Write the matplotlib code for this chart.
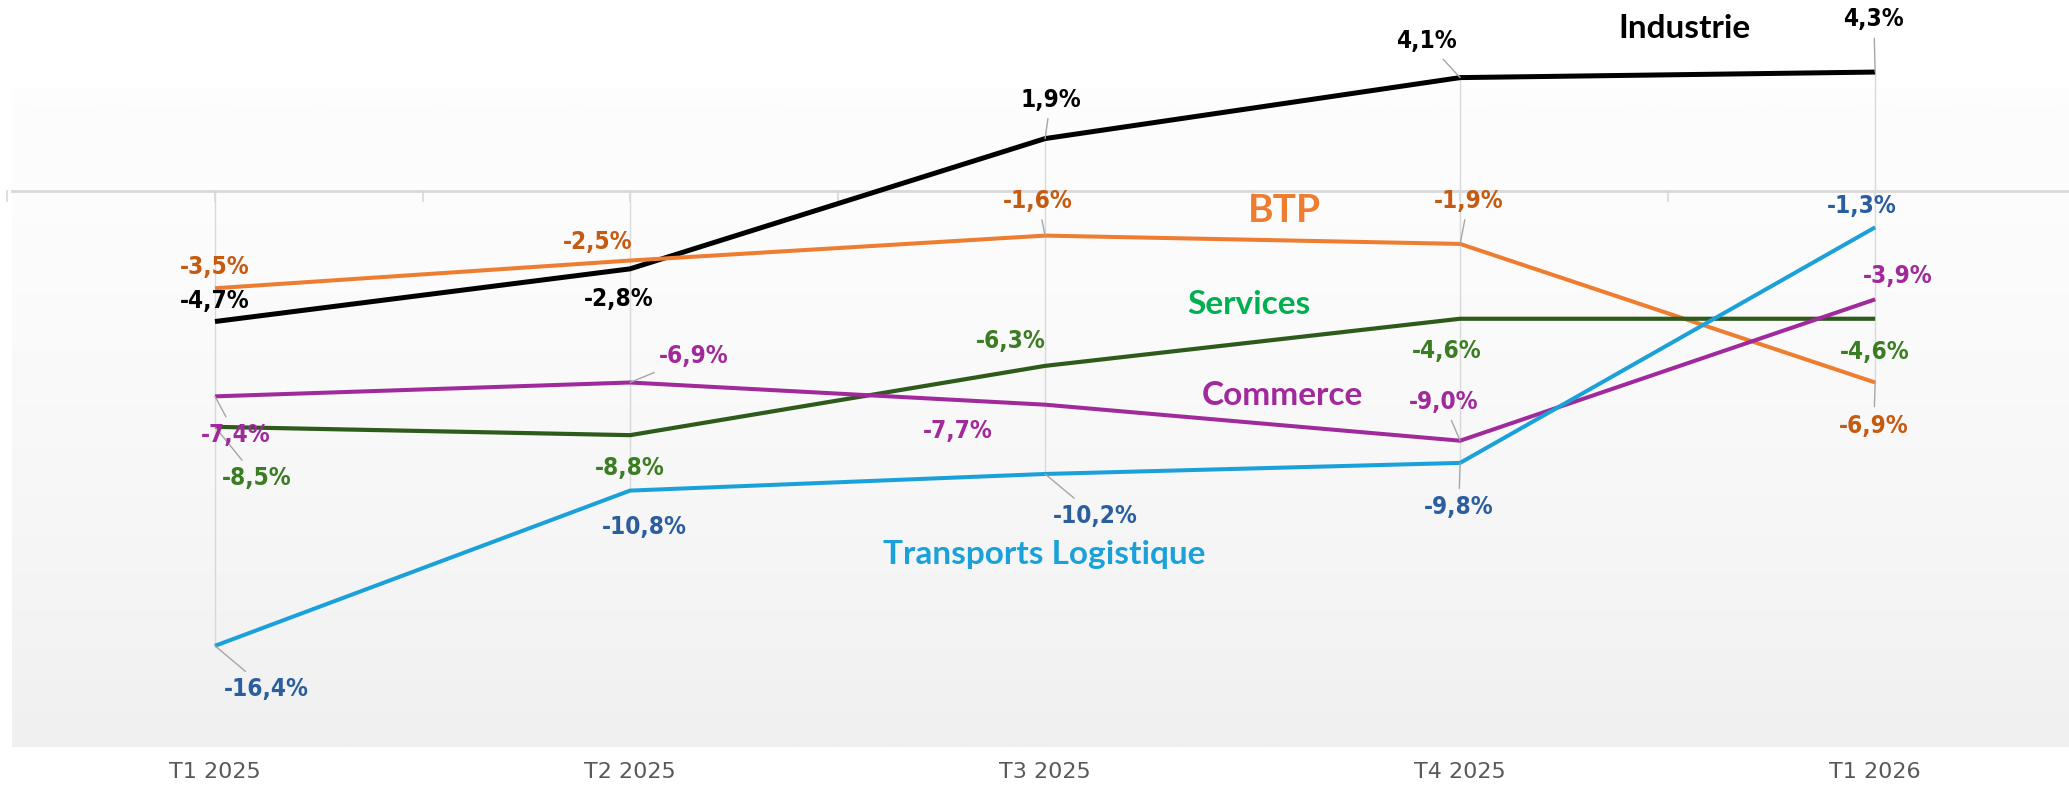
import numpy as np
import matplotlib
matplotlib.use("Agg")
import matplotlib.pyplot as plt

categories = ["T1 2025", "T2 2025", "T3 2025", "T4 2025", "T1 2026"]
industrie = [-4.7, -2.8, 1.9, 4.1, 4.3]
btp = [-3.5, -2.5, -1.6, -1.9, -6.9]
services = [-8.5, -8.8, -6.3, -4.6, -4.6]
commerce = [-7.4, -6.9, -7.7, -9.0, -3.9]
transports = [-16.4, -10.8, -10.2, -9.8, -1.3]

series = [
    # name, values, line colour, label colour, lw, name pos, name colour, name size
    ("Industrie", industrie, "#000000", "#000000", 3.6, (3.54, 5.86), "#000000", 24),
    ("BTP", btp, "#ED7D31", "#C55A11", 2.9, (2.576, -0.71), "#ED7D31", 28),
    ("Services", services, "#2E5A1C", "#3A7D22", 3.0, (2.49, -4.1), "#00B050", 24),
    ("Commerce", commerce, "#A0299B", "#A0299B", 2.9, (2.572, -7.38), "#A0299B", 24),
    ("Transports Logistique", transports, "#1BA1DA", "#2A5E9E", 2.9, (1.997, -13.1), "#1BA1DA", 24),
]

# label offsets in points (dx, dy) and whether a leader line is drawn
offsets = {
    "Industrie": [(0, 15, 0), (-8, -22, 0), (4, 28, 1), (-24, 26, 1), (-1, 38, 1)],
    "BTP": [(0, 15, 0), (-23, 13, 0), (-5, 25, 1), (6, 31, 1), (-1, -31, 1)],
    "Services": [(30, -37, 1), (0, -24, 0), (-25, 18, 0), (-10, -23, 0), (0, -24, 0)],
    "Commerce": [(15, -28, 1), (46, 19, 1), (-63, -19, 0), (-12, 28, 1), (16, 17, 0)],
    "Transports Logistique": [(37, -31, 1), (10, -26, 0), (36, -30, 1), (-1, -32, 1), (-10, 15, 0)],
}

val_font = ["DejaVu Sans"]
name_font = ["Lato", "DejaVu Sans"]

fig = plt.figure(figsize=(20.69, 7.93), dpi=100)
ax = fig.add_axes([0, 0, 1, 1])
ax.axis("off")

x = np.arange(len(categories))

# plot area background gradient (light at top, grey at bottom)
grad = (np.linspace(0, 1, 256) ** 1.6).reshape(-1, 1)
cmap = matplotlib.colors.LinearSegmentedColormap.from_list("bg", ["#fdfdfd", "#f0f0f0"])
ax.imshow(grad, extent=(-0.49, 4.467, -20.05, 3.7), cmap=cmap, aspect="auto",
          zorder=0, origin="upper")
ax.set_xlim(-0.518, 4.467)
ax.set_ylim(-21.71, 6.90)

# zero axis and ticks
ax.plot([-0.49, 4.467], [0, 0], color="#d9d9d9", lw=2, zorder=1)
for t in np.arange(-0.5, 4.6, 0.5):
    ax.plot([t, t], [0, -0.35], color="#d9d9d9", lw=1.2, zorder=1)

# drop lines
allv = np.array([s[1] for s in series])
ax.vlines(x, np.minimum(allv.min(axis=0), 0), np.maximum(allv.max(axis=0), 0),
          color="#d9d9d9", lw=1, zorder=1)

for name, vals, col, lcol, lw, npos, ncol, nsize in series:
    ax.plot(x, vals, color=col, lw=lw, zorder=3, solid_capstyle="butt")
    for i, v in enumerate(vals):
        dx, dy, lead = offsets[name][i]
        txt = f"{v:.1f}%".replace(".", ",")
        props = dict(arrowstyle="-", color="#a6a6a6", lw=1, shrinkA=3, shrinkB=0) if lead else None
        ax.annotate(txt, (x[i], v), xytext=(dx, dy), textcoords="offset points",
                    ha="center", va="center", fontsize=17.5, fontweight="bold",
                    fontstretch="condensed", color=lcol, family=val_font,
                    arrowprops=props, zorder=4)
    ax.text(npos[0], npos[1], name, ha="center", va="center", fontsize=nsize,
            fontweight="bold", color=ncol, family=name_font, zorder=4)

for i, c in enumerate(categories):
    ax.text(x[i], -20.95, c, ha="center", va="center", fontsize=16,
            color="#595959", family=val_font)

fig.savefig("out.png", dpi=100)
